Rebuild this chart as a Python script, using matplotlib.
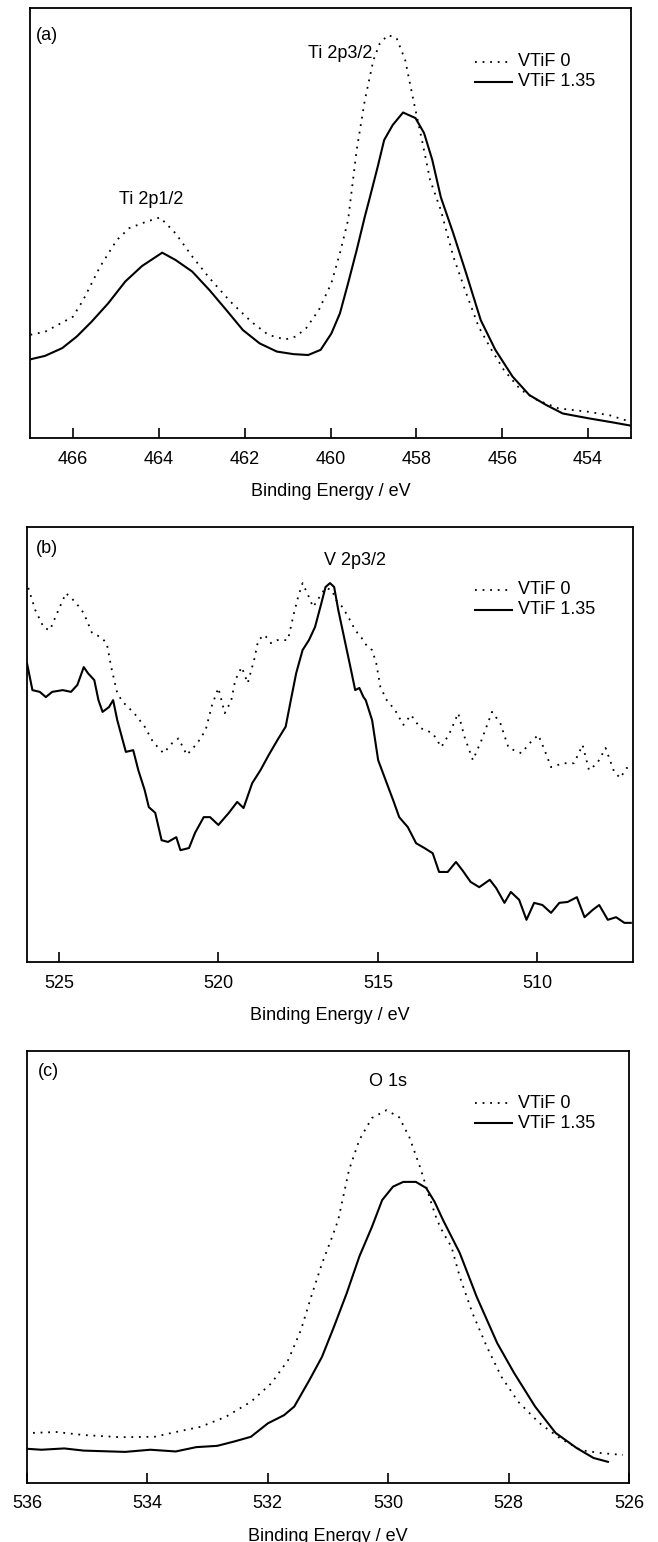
import matplotlib
matplotlib.use("Agg")
import matplotlib.pyplot as plt

plt.rcParams['font.family'] = ['Liberation Sans', 'DejaVu Sans']

series_labels = ["VTiF 0", "VTiF 1.35"]
x_label = "Binding Energy / eV"

# ---- (a) Ti 2p region ----
a_ev_0 = [466.99, 466.65, 466.0, 465.76, 465.37, 464.98, 464.69, 464.29, 463.97, 463.61,
          463.22, 462.82, 462.33, 461.84, 461.45, 461.06, 460.81, 460.57, 460.27, 459.98,
          459.78, 459.59, 459.39, 459.2, 459.0, 458.85, 458.66, 458.46, 458.26, 458.07,
          457.87, 457.68, 457.43, 457.14, 456.84, 456.55, 456.25, 455.96, 455.57, 455.18,
          454.69, 454.0, 453.5, 453.02]
a_int_0 = [0.240, 0.247, 0.282, 0.321, 0.398, 0.460, 0.488, 0.503, 0.513, 0.476,
           0.422, 0.372, 0.317, 0.270, 0.240, 0.229, 0.236, 0.255, 0.298, 0.360,
           0.430, 0.507, 0.670, 0.786, 0.879, 0.918, 0.937, 0.930, 0.879, 0.786,
           0.693, 0.600, 0.530, 0.422, 0.337, 0.259, 0.205, 0.158, 0.112, 0.088,
           0.069, 0.061, 0.053, 0.038]
a_ev_135 = [466.99, 466.65, 466.25, 465.91, 465.57, 465.18, 464.78, 464.39, 463.92, 463.61,
            463.22, 462.82, 462.43, 462.04, 461.65, 461.25, 460.86, 460.52, 460.23, 459.98,
            459.78, 459.59, 459.39, 459.2, 459.1, 458.9, 458.75, 458.55, 458.31, 458.02,
            457.82, 457.63, 457.43, 457.14, 456.84, 456.5, 456.16, 455.76, 455.37, 454.98,
            454.59, 454.0, 453.41, 453.02]
a_int_135 = [0.183, 0.191, 0.209, 0.236, 0.270, 0.313, 0.364, 0.400, 0.431, 0.414,
             0.387, 0.344, 0.298, 0.251, 0.220, 0.201, 0.195, 0.193, 0.205, 0.243,
             0.290, 0.360, 0.437, 0.515, 0.553, 0.631, 0.693, 0.728, 0.757, 0.744,
             0.709, 0.647, 0.560, 0.476, 0.383, 0.274, 0.205, 0.143, 0.100, 0.077,
             0.057, 0.046, 0.036, 0.029]

# ---- (b) V 2p3/2 region ----
b_ev_0 = [525.96, 525.74, 525.47, 525.28, 525.08, 524.78, 524.49, 524.22, 523.96, 523.69,
          523.5, 523.36, 523.17, 523.0, 522.64, 522.31, 522.05, 521.72, 521.45, 521.25,
          520.99, 520.66, 520.4, 520.2, 520.0, 519.8, 519.6, 519.47, 519.27, 519.08,
          518.88, 518.75, 518.55, 518.35, 518.15, 517.82, 517.63, 517.5, 517.36, 517.16,
          517.03, 516.83, 516.64, 516.44, 516.31, 516.11, 515.91, 515.71, 515.51, 515.32,
          515.18, 515.05, 514.92, 514.72, 514.46, 514.2, 513.96, 513.67, 513.28, 513.01,
          512.75, 512.48, 512.28, 512.02, 511.75, 511.42, 511.16, 510.9, 510.5, 510.24,
          509.97, 509.77, 509.57, 509.18, 508.85, 508.58, 508.38, 508.12, 507.86, 507.59,
          507.4, 507.2, 507.07]
b_int_0 = [0.860, 0.809, 0.768, 0.763, 0.798, 0.848, 0.828, 0.802, 0.756, 0.747,
           0.733, 0.678, 0.618, 0.598, 0.572, 0.541, 0.506, 0.480, 0.503, 0.514,
           0.476, 0.503, 0.533, 0.590, 0.630, 0.572, 0.600, 0.648, 0.678, 0.641,
           0.694, 0.740, 0.752, 0.733, 0.740, 0.740, 0.802, 0.839, 0.871, 0.839,
           0.816, 0.839, 0.860, 0.855, 0.832, 0.816, 0.791, 0.763, 0.745, 0.724,
           0.717, 0.687, 0.632, 0.602, 0.579, 0.545, 0.568, 0.538, 0.526, 0.494,
           0.526, 0.572, 0.517, 0.464, 0.510, 0.575, 0.549, 0.492, 0.480, 0.503,
           0.522, 0.487, 0.448, 0.457, 0.457, 0.499, 0.441, 0.457, 0.492, 0.437,
           0.423, 0.446, 0.446]
b_ev_135 = [526.0, 525.83, 525.6, 525.41, 525.21, 524.88, 524.62, 524.42, 524.22, 524.09,
            523.89, 523.76, 523.63, 523.43, 523.3, 523.17, 522.9, 522.67, 522.51, 522.31,
            522.18, 521.98, 521.78, 521.58, 521.32, 521.19, 520.92, 520.73, 520.46, 520.26,
            520.0, 519.67, 519.41, 519.21, 518.94, 518.68, 518.42, 518.15, 517.89, 517.72,
            517.56, 517.36, 517.16, 516.97, 516.77, 516.64, 516.5, 516.37, 516.24, 516.04,
            515.84, 515.71, 515.58, 515.45, 515.38, 515.18, 514.99, 514.72, 514.52, 514.33,
            514.06, 513.8, 513.54, 513.28, 513.08, 512.81, 512.55, 512.35, 512.09, 511.82,
            511.49, 511.29, 511.03, 510.83, 510.57, 510.34, 510.1, 509.84, 509.57, 509.31,
            509.05, 508.76, 508.52, 508.26, 508.06, 507.79, 507.53, 507.27, 507.07]
b_int_135 = [0.687, 0.625, 0.621, 0.609, 0.621, 0.625, 0.621, 0.637, 0.678, 0.664,
             0.648, 0.602, 0.575, 0.586, 0.602, 0.556, 0.483, 0.487, 0.441, 0.395,
             0.356, 0.343, 0.280, 0.276, 0.287, 0.257, 0.262, 0.297, 0.333, 0.333,
             0.315, 0.343, 0.368, 0.354, 0.411, 0.441, 0.476, 0.510, 0.541, 0.605,
             0.664, 0.717, 0.740, 0.770, 0.825, 0.862, 0.871, 0.862, 0.809, 0.740,
             0.671, 0.625, 0.630, 0.609, 0.602, 0.556, 0.464, 0.411, 0.372, 0.333,
             0.310, 0.273, 0.262, 0.250, 0.207, 0.207, 0.230, 0.211, 0.184, 0.172,
             0.189, 0.170, 0.136, 0.161, 0.143, 0.097, 0.136, 0.131, 0.113, 0.136,
             0.138, 0.149, 0.103, 0.120, 0.131, 0.097, 0.103, 0.090, 0.090]

# ---- (c) O 1s region ----
c_ev_0 = [535.9, 535.51, 535.06, 534.44, 533.88, 533.53, 533.12, 532.7, 532.28, 531.94,
          531.66, 531.45, 531.28, 531.1, 530.93, 530.83, 530.65, 530.48, 530.27, 530.03,
          529.82, 529.65, 529.47, 529.3, 529.19, 529.09, 528.95, 528.81, 528.6, 528.36,
          528.12, 527.84, 527.49, 527.15, 526.8, 526.45, 526.1]
c_int_0 = [0.116, 0.118, 0.111, 0.106, 0.107, 0.118, 0.130, 0.153, 0.188, 0.231,
           0.285, 0.354, 0.431, 0.508, 0.570, 0.609, 0.725, 0.794, 0.845, 0.863,
           0.847, 0.801, 0.731, 0.655, 0.609, 0.580, 0.547, 0.477, 0.393, 0.315,
           0.246, 0.188, 0.139, 0.104, 0.076, 0.069, 0.065]
c_ev_135 = [535.98, 535.76, 535.38, 535.06, 534.37, 533.95, 533.53, 533.19, 532.84, 532.56,
            532.28, 532.0, 531.73, 531.56, 531.31, 531.1, 530.9, 530.69, 530.48, 530.27,
            530.1, 529.92, 529.75, 529.54, 529.37, 529.23, 529.09, 528.81, 528.53, 528.19,
            527.91, 527.56, 527.22, 526.87, 526.59, 526.35]
c_int_135 = [0.079, 0.077, 0.080, 0.075, 0.072, 0.077, 0.073, 0.083, 0.086, 0.096,
             0.107, 0.138, 0.157, 0.177, 0.238, 0.292, 0.362, 0.439, 0.524, 0.593,
             0.655, 0.686, 0.697, 0.697, 0.683, 0.651, 0.609, 0.532, 0.431, 0.324,
             0.255, 0.177, 0.116, 0.081, 0.058, 0.049]

panels = [
    dict(tag="(a)", xlim=(467, 453), ticks=[466, 464, 462, 460, 458, 456, 454],
         data=[(a_ev_0, a_int_0), (a_ev_135, a_int_135)],
         peaks=[("Ti 2p3/2", 340, 53), ("Ti 2p1/2", 151, 199)],
         box=(30, 631, 8, 438), tagpos=(36, 35), legend_y=(62, 82)),
    dict(tag="(b)", xlim=(526, 507), ticks=[525, 520, 515, 510],
         data=[(b_ev_0, b_int_0), (b_ev_135, b_int_135)],
         peaks=[("V 2p3/2", 355, 560)],
         box=(27, 633, 527, 962), tagpos=(36, 548), legend_y=(590, 610)),
    dict(tag="(c)", xlim=(536, 526), ticks=[536, 534, 532, 530, 528, 526],
         data=[(c_ev_0, c_int_0), (c_ev_135, c_int_135)],
         peaks=[("O 1s", 388, 1082)],
         box=(27, 629, 1051, 1483), tagpos=(38, 1072), legend_y=(1103, 1123)),
]

W, H = 658, 1542
fig = plt.figure(figsize=(W / 100, H / 100), dpi=100)

styles = [dict(linestyle=(0, (1, 3.2)), linewidth=1.3, color="black"),
          dict(linestyle="-", linewidth=1.5, color="black")]

FS = 13

def fx(px):
    return px / W

def fy(py):
    return 1 - py / H

for p in panels:
    l, r, t, b = p["box"]
    ax = fig.add_axes([fx(l), fy(b), (r - l) / W, (b - t) / H])
    for (ev, inten), st in zip(p["data"], styles):
        ax.plot(ev, inten, **st)
    ax.set_xlim(*p["xlim"])
    ax.set_ylim(0, 1)
    ax.set_xticks(p["ticks"])
    ax.set_yticks([])
    ax.tick_params(axis="x", direction="in", length=7, width=1.2,
                   labelsize=FS, pad=9, top=False)
    for s in ax.spines.values():
        s.set_linewidth(1.3)
    ax.set_xlabel(x_label, fontsize=FS, labelpad=11)

    fig.text(fx(p["tagpos"][0]), fy(p["tagpos"][1]), p["tag"], fontsize=FS,
             ha="left", va="center")
    for name, px, py in p["peaks"]:
        fig.text(fx(px), fy(py), name, fontsize=FS, ha="center", va="center")
    for st, lab, ly in zip(styles, series_labels, p["legend_y"]):
        ax.plot([fx(475), fx(512)], [fy(ly), fy(ly)], transform=fig.transFigure,
                clip_on=False, **st)
        fig.text(fx(518), fy(ly), lab, fontsize=FS, ha="left", va="center")

fig.savefig("out.png", dpi=100)
